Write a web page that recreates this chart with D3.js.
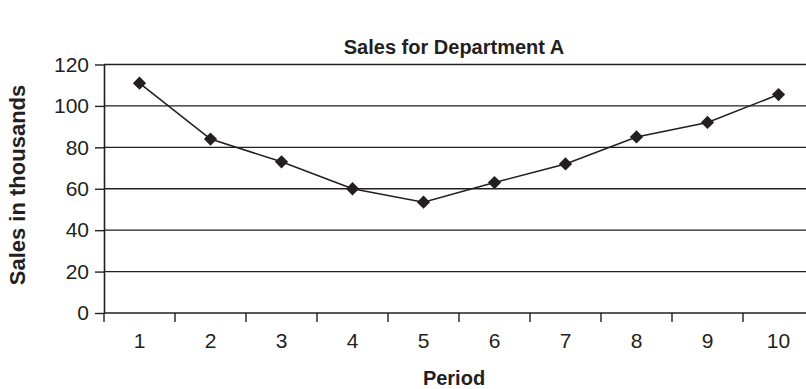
<!DOCTYPE html>
<html>
<head>
<meta charset="utf-8">
<script src="https://cdn.jsdelivr.net/npm/d3@7"></script>
<style>
  html, body { margin: 0; padding: 0; background: #fff; }
  svg { display: block; }
  text { font-family: "Liberation Sans", Arial, sans-serif; fill: #231f20; }
</style>
</head>
<body>
<svg id="chart" width="806" height="389"></svg>
<script>
// Sales per period for Department A (thousands)
const periods = [1, 2, 3, 4, 5, 6, 7, 8, 9, 10];
const sales = [111, 84, 73, 60, 53.5, 63, 72, 85, 92, 105.5];
const yTicks = [0, 20, 40, 60, 80, 100, 120];

const chartTitle = "Sales for Department A";
const xTitle = "Period";
const yTitle = "Sales in thousands";

const svg = d3.select("#chart");
const ink = "#231f20";

const plot = { left: 104, right: 814, top: 64.5, bottom: 313 };

const x = d3.scaleBand().domain(periods).range([plot.left, plot.right]).padding(0);
const y = d3.scaleLinear().domain([0, 120]).range([plot.bottom, plot.top]);

// horizontal gridlines
svg.append("g")
  .selectAll("line")
  .data(yTicks.filter(d => d > 0))
  .join("line")
  .attr("x1", plot.left).attr("x2", plot.right)
  .attr("y1", d => y(d)).attr("y2", d => y(d))
  .attr("stroke", ink).attr("stroke-width", 1.4);

// y axis
const yAxis = svg.append("g")
  .attr("transform", `translate(${plot.left},0)`)
  .call(d3.axisLeft(y).tickValues(yTicks).tickSize(9).tickPadding(6).tickSizeOuter(0));
yAxis.select(".domain").attr("stroke", ink).attr("stroke-width", 1.6);
yAxis.selectAll(".tick line").attr("stroke", ink).attr("stroke-width", 1.4);
yAxis.selectAll(".tick text")
  .style("font-family", '"Liberation Sans", Arial, sans-serif')
  .style("font-size", "21px").attr("fill", ink);

// x axis: ticks sit on the boundaries between periods
const xAxis = svg.append("g")
  .attr("transform", `translate(0,${plot.bottom})`);
xAxis.append("line")
  .attr("x1", plot.left).attr("x2", plot.right)
  .attr("stroke", ink).attr("stroke-width", 1.6);
xAxis.selectAll(".xtick")
  .data(periods)
  .join("line")
  .attr("class", "xtick")
  .attr("x1", d => x(d)).attr("x2", d => x(d))
  .attr("y1", 0).attr("y2", 9)
  .attr("stroke", ink).attr("stroke-width", 1.4);
xAxis.selectAll(".xlabel")
  .data(periods)
  .join("text")
  .attr("class", "xlabel")
  .attr("x", d => x(d) + x.bandwidth() / 2)
  .attr("y", 35)
  .attr("text-anchor", "middle")
  .style("font-size", "21px")
  .text(d => d);

// sales line
const cx = d => x(d) + x.bandwidth() / 2;
const line = d3.line()
  .x((d, i) => cx(periods[i]))
  .y(d => y(d));
svg.append("path")
  .datum(sales)
  .attr("d", line)
  .attr("fill", "none")
  .attr("stroke", ink)
  .attr("stroke-width", 1.6);

// diamond markers
const diamond = d3.symbol().type(d3.symbolDiamond2).size(112);
svg.append("g")
  .selectAll("path")
  .data(sales)
  .join("path")
  .attr("d", diamond)
  .attr("transform", (d, i) => `translate(${cx(periods[i])},${y(d)})`)
  .attr("fill", ink);

// titles
svg.append("text")
  .attr("x", 454).attr("y", 54)
  .attr("text-anchor", "middle")
  .style("font-size", "20px").style("font-weight", "bold")
  .text(chartTitle);

svg.append("text")
  .attr("x", 454).attr("y", 385)
  .attr("text-anchor", "middle")
  .style("font-size", "20px").style("font-weight", "bold")
  .text(xTitle);

svg.append("text")
  .attr("transform", "translate(25,185) rotate(-90)")
  .attr("text-anchor", "middle")
  .style("font-size", "22px").style("font-weight", "bold")
  .text(yTitle);
</script>
</body>
</html>
